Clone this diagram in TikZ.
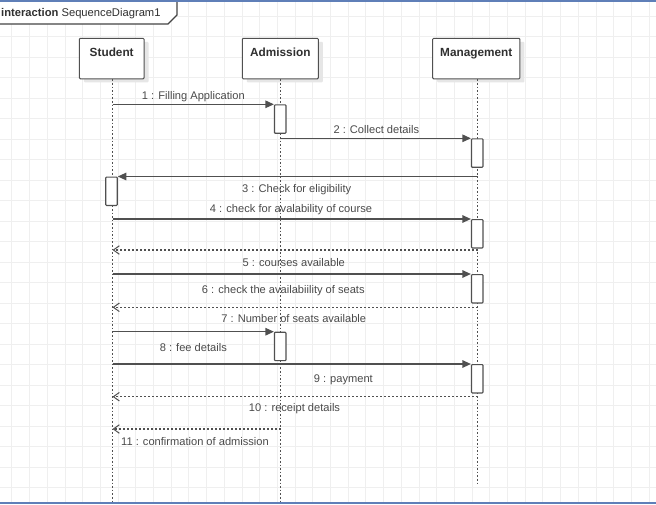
\documentclass[tikz,border=0pt]{standalone}
\usepackage{fontspec}
\setmainfont{Liberation Sans}
\usetikzlibrary{arrows.meta}
\definecolor{gridgray}{HTML}{EFEFEF}
\definecolor{linegray}{HTML}{505050}
\definecolor{labelgray}{HTML}{4A4A4A}
\definecolor{headtext}{HTML}{303030}
\definecolor{shadowgray}{HTML}{E6E6E6}
\definecolor{framegray}{HTML}{444444}
\definecolor{frameblue}{HTML}{5F7FB8}
\begin{document}
\begin{tikzpicture}[x=1pt,y=-1pt,
  gridline/.style={draw=gridgray,line width=0.9pt},
  headbox/.style={draw=linegray,line width=1pt,fill=white,rounded corners=1pt,
    preaction={fill=shadowgray,transform canvas={shift={(4.5pt,-3.5pt)}}},
    inner xsep=0pt,inner ysep=0pt,text height=17.8pt,text depth=22.5pt,
    minimum height=40.5pt,anchor=north,text=headtext,
    font=\fontsize{11.8}{13}\selectfont\bfseries},
  lifeline/.style={draw=linegray,line width=1.1pt,dash pattern=on 1.6pt off 2pt},
  activation/.style={draw=linegray,line width=1.1pt,fill=white,rounded corners=0.8pt,
    minimum width=11.5pt,minimum height=28.4pt,inner sep=0pt,anchor=north},
  callmsg/.style={draw=linegray,line width=1.2pt,-{Triangle[length=8.5pt,width=7.5pt]}},
  replymsg/.style={draw=linegray,line width=1.1pt,dash pattern=on 2.2pt off 1.8pt,
    -{Straight Barb[length=6pt,width=8.5pt,line width=1pt]}},
  msglabel/.style={text=labelgray,inner sep=0pt,font=\fontsize{11.1}{12}\selectfont},
  tablabel/.style={text=headtext,inner sep=0pt,anchor=west,font=\fontsize{11.2}{13}\selectfont}
]
\useasboundingbox (0,0) rectangle (656,504);
\fill[white] (0,0) rectangle (656,504);

% background grid
\foreach \gx in {0,...,36} {
  \draw[gridline] ({11.9+17.7*\gx},0) -- ({11.9+17.7*\gx},504);
}
\foreach \gy in {0,...,24} {
  \draw[gridline] (0,{16.3+20.5*\gy}) -- (656,{16.3+20.5*\gy});
}

% frame and its name tab
\fill[white] (0,1.5) -- (177,1.5) -- (177,15) -- (168,24) -- (0,24) -- cycle;
\draw[framegray,line width=1.1pt] (177,1.5) -- (177,15) -- (168,24) -- (0,24);
\draw[frameblue,line width=1.6pt] (0,0.8) -- (656,0.8);
\draw[frameblue,line width=1.6pt] (0,503) -- (656,503);
\node[tablabel] (tab) at (1,13.5) {\textbf{interaction} SequenceDiagram1};

% lifeline heads
\node[headbox,minimum width=64.7pt] (student) at (111.7,37.8) {Student};
\node[headbox,minimum width=76pt] (admission) at (280.3,37.8) {Admission};
\node[headbox,minimum width=87.3pt] (management) at (476.3,37.8) {Management};

% lifelines
\coordinate (sx) at (112.5,0);
\coordinate (ax) at (280.7,0);
\coordinate (mx) at (477.7,0);
\coordinate (send) at (112.5,504);
\coordinate (aend) at (280.7,504);
\coordinate (mend) at (477.7,485);
\draw[lifeline] (student.south -| sx) -- (send);
\draw[lifeline] (admission.south -| ax) -- (aend);
\draw[lifeline] (management.south -| mx) -- (mend);

% activation bars
\node[activation] (act1) at (280.2,104.3) {};
\node[activation] (act2) at (477.2,138.3) {};
\node[activation] (act3) at (111.5,176.5) {};
\node[activation] (act4) at (477.2,219) {};
\node[activation] (act5) at (477.2,274) {};
\node[activation] (act6) at (280.2,331.7) {};
\node[activation] (act7) at (477.2,364) {};

% message end points on the lifelines
\coordinate (m1s) at (112.5,104.3);
\coordinate (m2s) at (280.7,138.3);
\coordinate (m3s) at (477.7,176.5);
\coordinate (m4s) at (112.5,219);
\coordinate (r1s) at (477.7,250);
\coordinate (r1e) at (112.5,250);
\coordinate (m5s) at (112.5,274);
\coordinate (r2s) at (477.7,307.3);
\coordinate (r2e) at (112.5,307.3);
\coordinate (m7s) at (112.5,331.7);
\coordinate (m8s) at (112.5,364);
\coordinate (r3s) at (477.7,396.7);
\coordinate (r3e) at (112.5,396.7);
\coordinate (r4s) at (280.7,429);
\coordinate (r4e) at (112.5,429);

% messages
\draw[callmsg] (m1s) -- (act1.north west);
\draw[callmsg] (m2s) -- (act2.north west);
\draw[callmsg] (m3s) -- (act3.north east);
\draw[callmsg] (m4s) -- (act4.north west);
\draw[replymsg] (r1s) -- (r1e);
\draw[callmsg] (m5s) -- (act5.north west);
\draw[replymsg] (r2s) -- (r2e);
\draw[callmsg] (m7s) -- (act6.north west);
\draw[callmsg] (m8s) -- (act7.north west);
\draw[replymsg] (r3s) -- (r3e);
\draw[replymsg] (r4s) -- (r4e);

% message labels
\node[msglabel] (l1) at (193.3,96.7) {1 : Filling Application};
\node[msglabel] (l2) at (376.3,130) {2 : Collect details};
\node[msglabel] (l3) at (296.7,189.3) {3 : Check for eligibility};
\node[msglabel] (l4) at (291,210) {4 : check for avalability of course};
\node[msglabel] (l5) at (293.8,262.3) {5 : courses available};
\node[msglabel] (l6) at (283.3,291) {6 : check the availabiility of seats};
\node[msglabel] (l7) at (293.7,319) {7 : Number of seats available};
\node[msglabel] (l8) at (193.3,347.3) {8 : fee details};
\node[msglabel] (l9) at (343.3,380) {9 : payment};
\node[msglabel] (l10) at (294.5,409) {10 : receipt details};
\node[msglabel] (l11) at (195,441.7) {11 : confirmation of admission};
\end{tikzpicture}
\end{document}
